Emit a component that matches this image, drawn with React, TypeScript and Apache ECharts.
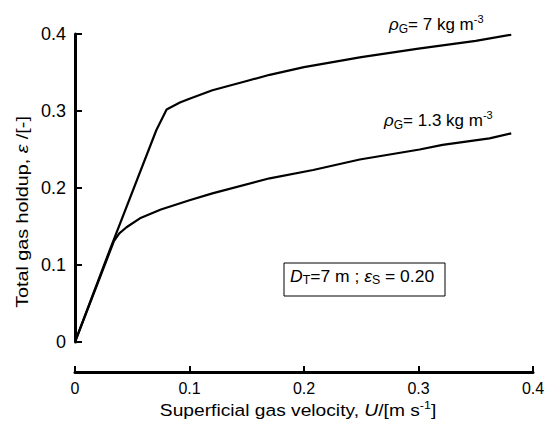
import React, { useEffect, useRef } from "react";
import * as echarts from "echarts";

const xTicks = [0, 0.1, 0.2, 0.3, 0.4];
const yTicks = [0, 0.1, 0.2, 0.3, 0.4];

const uHigh = [0, 0.03, 0.071, 0.08, 0.0916, 0.1, 0.12, 0.15, 0.17, 0.2, 0.25, 0.3, 0.35, 0.381];
const epsHigh = [0, 0.118, 0.275, 0.302, 0.311, 0.316, 0.327, 0.339, 0.347, 0.357, 0.37, 0.381, 0.391, 0.399];

const uLow = [0, 0.034, 0.0387, 0.045, 0.0567, 0.075, 0.1, 0.12, 0.17, 0.208, 0.2487, 0.301, 0.321, 0.362, 0.381];
const epsLow = [0, 0.131, 0.141, 0.149, 0.1606, 0.172, 0.184, 0.193, 0.2126, 0.2234, 0.237, 0.25, 0.256, 0.2645, 0.271];

const FONT = "'Liberation Sans', Arial, Helvetica, sans-serif";

const mkRich = (fs: number) => ({
  n: { fontSize: fs, fontFamily: FONT, fill: "#000", lineHeight: fs + 4, verticalAlign: "middle" },
  i: { fontSize: fs, fontFamily: FONT, fontStyle: "italic", fill: "#000", lineHeight: fs + 4, verticalAlign: "middle" },
  sub: { fontSize: Math.round(fs * 0.7), fontFamily: FONT, fill: "#000", lineHeight: Math.round(fs * 0.7), verticalAlign: "bottom" },
  sup: { fontSize: Math.round(fs * 0.62), fontFamily: FONT, fill: "#000", lineHeight: Math.round(fs * 0.62), verticalAlign: "top" },
});

export default function App() {
  const ref = useRef<HTMLDivElement>(null);
  useEffect(() => {
    if (!ref.current) return;
    const chart = echarts.init(ref.current, null, { renderer: "svg" });
    const fmt = (v: number) => (v === 0 ? "0" : v.toFixed(1));
    chart.setOption({
      animation: false,
      backgroundColor: "#fff",
      grid: { left: 75, right: 15, top: 34, bottom: 87 },
      xAxis: {
        type: "value",
        min: xTicks[0],
        max: xTicks[xTicks.length - 1],
        interval: 0.1,
        position: "bottom",
        offset: 30,
        axisLine: { onZero: false, lineStyle: { color: "#000", width: 3 } },
        axisTick: { inside: true, length: 6, lineStyle: { color: "#000", width: 2 } },
        axisLabel: { color: "#000", fontSize: 16, fontFamily: FONT, margin: 8, formatter: fmt },
        splitLine: { show: false },
      },
      yAxis: {
        type: "value",
        min: yTicks[0],
        max: yTicks[yTicks.length - 1],
        interval: 0.1,
        axisLine: { show: true, lineStyle: { color: "#000", width: 3 } },
        axisTick: { show: true, inside: true, length: 7, lineStyle: { color: "#000", width: 2 } },
        axisLabel: { color: "#000", fontSize: 18, fontFamily: FONT, margin: 9, formatter: fmt },
        splitLine: { show: false },
      },
      series: [
        {
          name: "rhoG 7",
          type: "line",
          data: uHigh.map((u, k) => [u, epsHigh[k]]),
          showSymbol: false,
          smooth: false,
          lineStyle: { color: "#000", width: 2.2 },
        },
        {
          name: "rhoG 1.3",
          type: "line",
          data: uLow.map((u, k) => [u, epsLow[k]]),
          showSymbol: false,
          smooth: false,
          lineStyle: { color: "#000", width: 2.2 },
        },
      ],
      graphic: [
        {
          type: "text",
          x: 22,
          y: 212,
          rotation: Math.PI / 2,
          scaleX: 1.16,
          style: {
            text: "{n|Total gas holdup, }{i|ε}{n| /[-]}",
            rich: mkRich(17),
            align: "center",
            verticalAlign: "middle",
          },
        },
        {
          type: "text",
          x: 298,
          y: 410,
          scaleX: 1.13,
          style: {
            text: "{n|Superficial gas velocity, }{i|U}{n|/[m s}{sup|-1}{n|]}",
            rich: mkRich(17),
            align: "center",
            verticalAlign: "middle",
          },
        },
        {
          type: "text",
          x: 389,
          y: 24,
          style: {
            text: "{i|ρ}{sub|G}{n|= 7 kg m}{sup|-3}",
            rich: mkRich(17),
            align: "left",
            verticalAlign: "middle",
          },
        },
        {
          type: "text",
          x: 384,
          y: 120,
          style: {
            text: "{i|ρ}{sub|G}{n|= 1.3 kg m}{sup|-3}",
            rich: mkRich(17),
            align: "left",
            verticalAlign: "middle",
          },
        },
        {
          type: "rect",
          shape: { x: 284, y: 263, width: 161, height: 33 },
          style: { fill: "#fff", stroke: "#000", lineWidth: 1 },
        },
        {
          type: "text",
          x: 290,
          y: 276,
          scaleX: 1.03,
          style: {
            text: "{i|D}{sub|T}{n|=7 m ; }{i|ε}{sub|S}{n| = 0.20}",
            rich: mkRich(17),
            align: "left",
            verticalAlign: "middle",
          },
        },
      ],
    });
    return () => chart.dispose();
  }, []);
  return (
    <div
      ref={ref}
      style={{ position: "absolute", left: 0, top: 0, width: 548, height: 429 }}
    />
  );
}
